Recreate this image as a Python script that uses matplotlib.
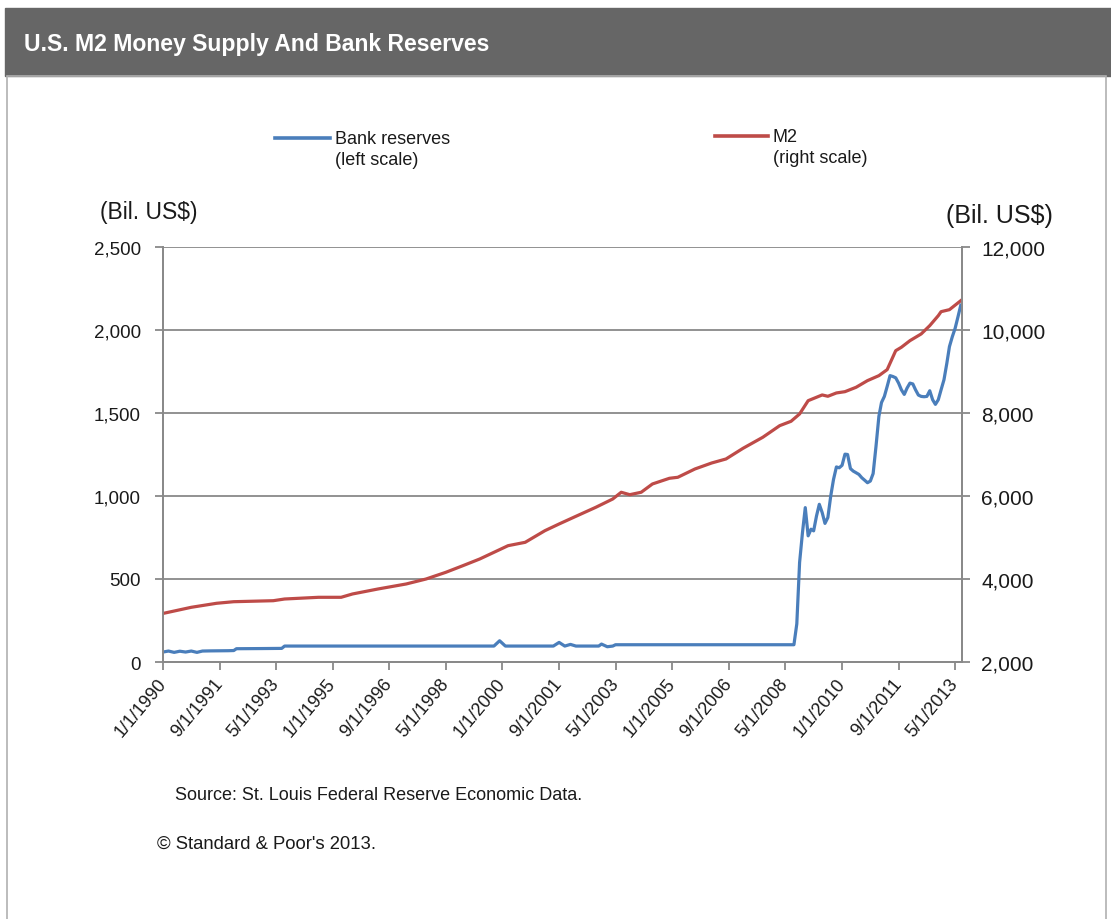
import matplotlib
matplotlib.use("Agg")
import matplotlib.pyplot as plt
from matplotlib.lines import Line2D
from matplotlib.patches import Rectangle
from matplotlib.ticker import FuncFormatter
import pandas as pd

# --- data (billions of US$) ---
reserves_dates = [
    "1990-01", "1990-03", "1990-05", "1990-07", "1990-09", "1990-11",
    "1991-01", "1991-03", "1991-06", "1991-12", "1992-02", "1992-03",
    "1992-12", "1993-07", "1993-08", "1999-10", "1999-12", "2000-02",
    "2001-07", "2001-09", "2001-11", "2002-01", "2002-03", "2002-11",
    "2002-12", "2003-02", "2003-04", "2003-05", "2008-08", "2008-09",
    "2008-10", "2008-11", "2008-12", "2009-01", "2009-02", "2009-03",
    "2009-04", "2009-05", "2009-06", "2009-07", "2009-08", "2009-09",
    "2009-10", "2009-11", "2009-12", "2010-01", "2010-02", "2010-03",
    "2010-04", "2010-05", "2010-06", "2010-07", "2010-08", "2010-09",
    "2010-10", "2010-11", "2010-12", "2011-01", "2011-02", "2011-03",
    "2011-04", "2011-05", "2011-06", "2011-07", "2011-08", "2011-09",
    "2011-10", "2011-11", "2011-12", "2012-01", "2012-02", "2012-03",
    "2012-04", "2012-05", "2012-06", "2012-07", "2012-08", "2012-09",
    "2012-10", "2012-11", "2012-12", "2013-01", "2013-02", "2013-03",
    "2013-04", "2013-05", "2013-06", "2013-07",
]
reserves_vals = [
    60, 66, 58, 65, 60, 66,
    58, 66, 67, 68, 69, 80,
    81, 82, 96, 96, 128, 96,
    96, 118, 96, 106, 96, 96,
    108, 92, 96, 104, 104, 230,
    600, 780, 930, 760, 800, 790,
    880, 950, 900, 835, 870, 1000,
    1100, 1175, 1170, 1185, 1252, 1250,
    1165, 1150, 1140, 1130, 1110, 1095,
    1080, 1090, 1135, 1300, 1480, 1563,
    1600, 1660, 1725, 1720, 1712, 1680,
    1640, 1612, 1650, 1680, 1675, 1640,
    1608, 1600, 1598, 1600, 1634, 1580,
    1552, 1580, 1640, 1700, 1800, 1900,
    1960, 2010, 2080, 2150,
]

m2_dates = [
    "1990-01", "1990-11", "1991-08", "1992-02", "1993-04", "1993-08",
    "1994-08", "1995-04", "1995-08", "1996-05", "1997-03", "1997-10",
    "1998-05", "1998-11", "1999-05", "2000-03", "2000-09", "2001-04",
    "2001-09", "2002-03", "2002-10", "2003-04", "2003-07", "2003-10",
    "2004-02", "2004-06", "2004-12", "2005-03", "2005-09", "2006-03",
    "2006-08", "2007-02", "2007-09", "2008-03", "2008-07", "2008-10",
    "2009-01", "2009-06", "2009-08", "2009-11", "2010-02", "2010-06",
    "2010-10", "2011-02", "2011-05", "2011-08", "2011-10", "2012-01",
    "2012-05", "2012-08", "2012-11", "2012-12", "2013-03", "2013-07",
]
m2_vals = [
    3170, 3318, 3415, 3453, 3477, 3518,
    3559, 3559, 3639, 3759, 3880, 4000,
    4161, 4321, 4482, 4803, 4884, 5164,
    5326, 5511, 5728, 5928, 6090, 6032,
    6090, 6290, 6427, 6451, 6651, 6796,
    6892, 7150, 7415, 7695, 7800, 7977,
    8297, 8435, 8403, 8483, 8514, 8620,
    8780, 8900, 9045, 9502, 9584, 9743,
    9905, 10105, 10346, 10442, 10490, 10707,
]

tick_dates = [
    "1990-01-01", "1991-09-01", "1993-05-01", "1995-01-01", "1996-09-01",
    "1998-05-01", "2000-01-01", "2001-09-01", "2003-05-01", "2005-01-01",
    "2006-09-01", "2008-05-01", "2010-01-01", "2011-09-01", "2013-05-01",
]
tick_labels = [
    "1/1/1990", "9/1/1991", "5/1/1993", "1/1/1995", "9/1/1996",
    "5/1/1998", "1/1/2000", "9/1/2001", "5/1/2003", "1/1/2005",
    "9/1/2006", "5/1/2008", "1/1/2010", "9/1/2011", "5/1/2013",
]

BLUE = "#4A7EBB"
RED = "#BE4B48"
GRID = "#898989"
TXT = "#1a1a1a"

plt.rcParams["font.family"] = ["Liberation Sans", "DejaVu Sans"]

fig = plt.figure(figsize=(11.11, 9.2), dpi=100)
W, H = 1111, 920


def fx(px):
    return px / W


def fy(py):
    return 1 - py / H


# title bar and frame
fig.add_artist(Rectangle((fx(5), fy(77)), fx(1106), 68 / H,
                         transform=fig.transFigure, color="#666666", zorder=0))
fig.add_artist(Rectangle((fx(7), -0.01), fx(1099), fy(77) + 0.01,
                         transform=fig.transFigure, fill=False,
                         edgecolor="#b0b0b0", linewidth=1.2, zorder=0))
fig.text(fx(24), fy(45), "U.S. M2 Money Supply And Bank Reserves",
         color="white", fontsize=16.6, fontweight="bold", va="center")

ax = fig.add_axes([fx(163), fy(663), 799 / W, 415 / H])
ax2 = ax.twinx()

rx = pd.to_datetime(reserves_dates)
mx = pd.to_datetime(m2_dates)
ax.plot(rx, reserves_vals, color=BLUE, lw=2.3, solid_joinstyle="round")
ax2.plot(mx, m2_vals, color=RED, lw=2.3, solid_joinstyle="round")

ax.set_ylim(0, 2500)
ax.set_yticks(range(0, 2501, 500))
ax2.set_ylim(2000, 12000)
ax2.set_yticks(range(2000, 12001, 2000))
ax.set_xlim(pd.Timestamp("1990-01-01"), pd.Timestamp("2013-07-14"))

fmt = FuncFormatter(lambda v, p: f"{v:,.0f}")
ax.yaxis.set_major_formatter(fmt)
ax2.yaxis.set_major_formatter(fmt)

ax.set_xticks(pd.to_datetime(tick_dates))
ax.set_xticklabels(tick_labels, rotation=50, ha="right", va="center",
                   rotation_mode="anchor", fontsize=13, color=TXT)

ax.grid(axis="y", color=GRID, lw=1.3)
ax.set_axisbelow(True)
for a in (ax, ax2):
    a.spines["top"].set_visible(False)
    for s in ("left", "right", "bottom"):
        a.spines[s].set_color(GRID)
        a.spines[s].set_linewidth(1.3)
ax.tick_params(axis="y", length=6, width=1.3, color=GRID, pad=10,
               labelsize=13.5, labelcolor=TXT)
ax.tick_params(axis="x", length=6, width=1.3, color=GRID, pad=7)
ax2.tick_params(axis="y", length=6, width=1.3, color=GRID, pad=8,
                labelsize=15, labelcolor=TXT)

fig.text(fx(100), fy(212), "(Bil. US$)", fontsize=16.5, color=TXT,
         va="center")
fig.text(fx(946), fy(216), "(Bil. US$)", fontsize=18, color=TXT,
         va="center")

# legend, drawn by hand so the key line sits on the first text line
legend_items = [
    (275, 330, 139, BLUE, "Bank reserves\n(left scale)"),
    (715, 768, 137, RED, "M2\n(right scale)"),
]
for x0, x1, y0, col, lab in legend_items:
    fig.add_artist(Line2D([fx(x0), fx(x1)], [fy(y0), fy(y0)],
                          transform=fig.transFigure, color=col, lw=2.6))
    fig.text(fx(x1 + 5), fy(y0 - 8), lab, fontsize=13, color=TXT,
             va="top", ha="left", linespacing=1.32)

fig.text(fx(175), fy(796),
         "Source: St. Louis Federal Reserve Economic Data.",
         fontsize=13, color=TXT, va="center")
fig.text(fx(157), fy(844), "\u00a9 Standard & Poor's 2013.",
         fontsize=13.3, color=TXT, va="center")

fig.savefig("out.png", dpi=100)
